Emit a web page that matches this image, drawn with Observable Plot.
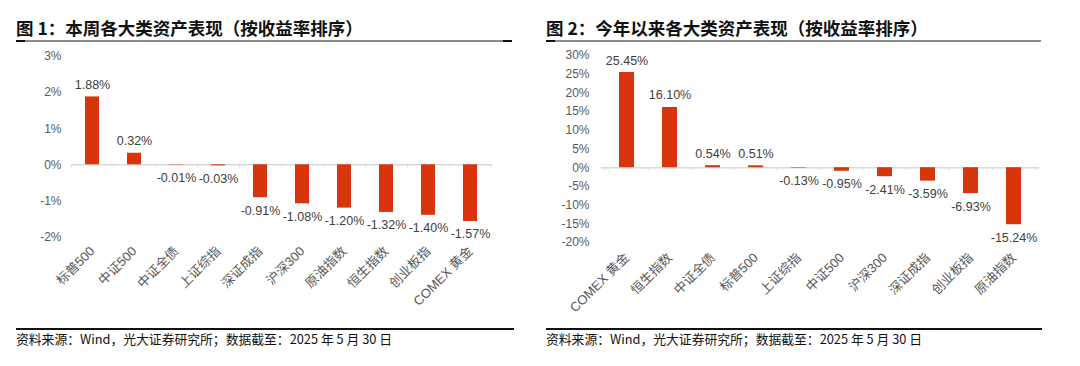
<!DOCTYPE html>
<html><head><meta charset="utf-8">
<script src="https://cdn.jsdelivr.net/npm/d3@7"></script>
<script src="https://cdn.jsdelivr.net/npm/@observablehq/plot@0.6"></script>
<style>
body{margin:0;background:#fff;width:1080px;height:366px;position:relative;overflow:hidden;font-family:"Noto Sans CJK SC",sans-serif}
.title{position:absolute;top:15.5px;font-size:17.5px;font-weight:bold;color:#111;white-space:nowrap;line-height:24px}
.rule{position:absolute;top:40px;height:1.5px;background:#8c8c8c}
.cap{position:absolute;top:330px;font-size:12.8px;line-height:18px;color:#111;white-space:nowrap}
.brule{position:absolute;top:327.5px;height:2px;background:#111}
.endcap{position:absolute;top:39.5px;height:2.5px;width:9px;background:#111}
.chart{position:absolute;top:44px}
</style></head>
<body>
<div class="title" style="left:16px">图 1：本周各大类资产表现（按收益率排序）</div>
<div class="rule" style="left:16px;width:496px"></div>
<div class="endcap" style="left:16px"></div>
<div class="endcap" style="left:503px"></div>
<div class="chart" id="c1" style="left:16px"></div>
<div class="brule" style="left:16px;width:498px"></div>
<div class="cap" style="left:16px">资料来源：Wind，光大证券研究所；数据截至：2025 年 5 月 30 日</div>

<div class="title" style="left:546px">图 2：今年以来各大类资产表现（按收益率排序）</div>
<div class="rule" style="left:546px;width:495px"></div>
<div class="endcap" style="left:546px"></div>
<div class="chart" id="c2" style="left:546px"></div>
<div class="brule" style="left:546px;width:496px"></div>
<div class="cap" style="left:546px">资料来源：Wind，光大证券研究所；数据截至：2025 年 5 月 30 日</div>

<script>
const weekCats = ["标普500","中证500","中证全债","上证综指","深证成指","沪深300","原油指数","恒生指数","创业板指","COMEX 黄金"];
const weekVals = [1.88,0.32,-0.01,-0.03,-0.91,-1.08,-1.20,-1.32,-1.40,-1.57];
const weekTicks = [-2,-1,0,1,2,3];
const weekTickLabels = ["-2%","-1%","0%","1%","2%","3%"];

const ytdCats = ["COMEX 黄金","恒生指数","中证全债","标普500","上证综指","中证500","沪深300","深证成指","创业板指","原油指数"];
const ytdVals = [25.45,16.10,0.54,0.51,-0.13,-0.95,-2.41,-3.59,-6.93,-15.24];
const ytdTicks = [-20,-15,-10,-5,0,5,10,15,20,25,30];
const ytdTickLabels = ["-20%","-15%","-10%","-5%","0%","5%","10%","15%","20%","25%","30%"];

const BAR = "#d8350d";
const FONT = '"Liberation Sans","Noto Sans CJK SC",sans-serif';

function makeChart(o){
  const data = o.cats.map((c,i)=>({cat:c, val:o.vals[i]}));
  const plotW = o.width - o.marginLeft - o.marginRight;
  const plotH = o.height - o.marginTop - o.marginBottom;
  const step = plotW / o.cats.length;
  const pxPerUnit = plotH / (o.ticks[o.ticks.length-1] - o.ticks[0]);
  const tickLen = 3 / pxPerUnit;
  const fmt = d => o.tickLabels[o.ticks.indexOf(d)];
  const pos = data.filter(d=>d.val>=0), neg = data.filter(d=>d.val<0);
  return Plot.plot({
    width:o.width, height:o.height,
    marginLeft:o.marginLeft, marginRight:o.marginRight, marginTop:o.marginTop, marginBottom:o.marginBottom,
    style:{fontFamily:FONT, background:"transparent", overflow:"visible"},
    x:{domain:o.cats, paddingInner:0.656, paddingOuter:0.328, label:null},
    y:{domain:[o.ticks[0], o.ticks[o.ticks.length-1]], label:null},
    marks:[
      Plot.axisY({ticks:o.ticks, tickFormat:fmt, tickSize:0, tickPadding:o.yPad, fill:"#595959", fontSize:12, label:null}),
      Plot.axisX({tickRotate:-45, tickSize:0, tickPadding:o.xPad, fill:"#595959", fontSize:13, label:null}),
      Plot.ruleY([0], {stroke:"#d9d9d9", strokeWidth:1.5}),
      Plot.ruleX(o.cats, {x:d=>d, y1:0, y2:-tickLen, dx:-step/2, stroke:"#d9d9d9"}),
      Plot.ruleX([o.cats[o.cats.length-1]], {x:d=>d, y1:0, y2:-tickLen, dx:step/2, stroke:"#d9d9d9"}),
      Plot.barY(data, {x:"cat", y:"val", fill:BAR}),
      Plot.text(pos, {x:"cat", y:"val", text:d=>d.val.toFixed(2)+"%", dy:-12, fill:"#404040", fontSize:12.5}),
      Plot.text(neg, {x:"cat", y:"val", text:d=>d.val.toFixed(2)+"%", dy:13, fill:"#404040", fontSize:12.5})
    ]
  });
}

document.getElementById("c1").appendChild(makeChart({
  cats:weekCats, vals:weekVals, ticks:weekTicks, tickLabels:weekTickLabels,
  width:496, height:290, marginLeft:55, marginRight:20, marginTop:12, marginBottom:97.5, yPad:10, xPad:12
}));
document.getElementById("c2").appendChild(makeChart({
  cats:ytdCats, vals:ytdVals, ticks:ytdTicks, tickLabels:ytdTickLabels,
  width:495, height:290, marginLeft:55, marginRight:2, marginTop:11, marginBottom:92, yPad:12, xPad:13
}));
</script>
</body></html>
